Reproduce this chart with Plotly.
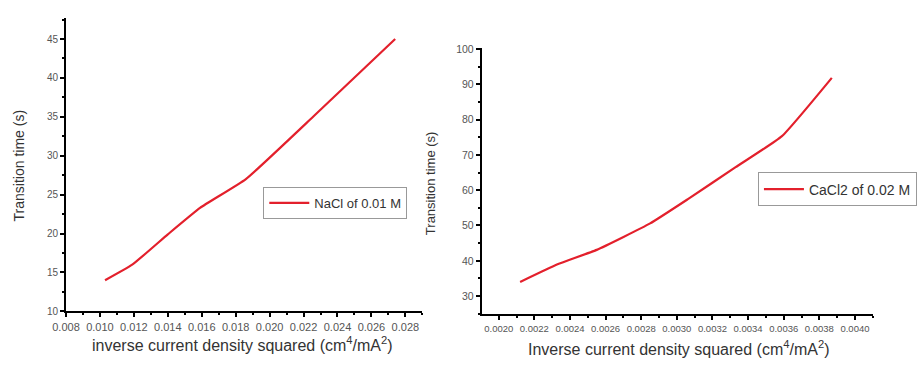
import plotly.graph_objects as go

# Left panel: NaCl 0.01 M
nacl_x = [0.0103, 0.0119, 0.0140, 0.0159, 0.0186, 0.0227, 0.0274]
nacl_y = [14.0, 16.0, 19.9, 23.3, 27.0, 35.3, 45.0]

# Right panel: CaCl2 0.02 M
cacl_x = [0.00212, 0.00233, 0.00255, 0.00285, 0.00306, 0.00333, 0.00359, 0.00387]
cacl_y = [34.0, 39.0, 43.1, 50.6, 57.4, 66.5, 75.3, 91.8]

left_xticks = [0.008, 0.010, 0.012, 0.014, 0.016, 0.018, 0.020, 0.022, 0.024, 0.026, 0.028]
left_yticks = [10, 15, 20, 25, 30, 35, 40, 45]
right_xticks = [0.0020, 0.0022, 0.0024, 0.0026, 0.0028, 0.0030, 0.0032, 0.0034, 0.0036, 0.0038, 0.0040]
right_yticks = [30, 40, 50, 60, 70, 80, 90, 100]

RED = "#e3202c"
FONT = "Liberation Sans"
TICKC = "#555555"
TITLEC = "#333333"

fig = go.Figure()
fig.add_trace(go.Scatter(x=nacl_x, y=nacl_y, mode="lines", name="NaCl of 0.01 M",
                         line=dict(color=RED, width=2.2, shape="spline", smoothing=0.4),
                         xaxis="x", yaxis="y", legend="legend"))
fig.add_trace(go.Scatter(x=cacl_x, y=cacl_y, mode="lines", name="CaCl2 of 0.02 M",
                         line=dict(color=RED, width=2.2, shape="spline", smoothing=0.4),
                         xaxis="x2", yaxis="y2", legend="legend2"))

axis_common = dict(showgrid=False, zeroline=False, showline=True, linecolor="black", linewidth=2,
                   ticks="outside", tickcolor="black", tickwidth=1.5, ticklen=4)

fig.update_layout(
    width=917, height=367, margin=dict(l=0, r=0, t=0, b=0),
    plot_bgcolor="white", paper_bgcolor="white",
    font=dict(family=FONT, color="#444444"),
    xaxis=dict(domain=[0.0578, 0.4537], range=[0.008, 0.0290], anchor="y",
               tickvals=left_xticks, ticktext=[f"{v:.3f}" for v in left_xticks],
               tickfont=dict(size=11, color=TICKC),
               minor=dict(ticks="outside", ticklen=2, tickcolor="black", dtick=0.001, tick0=0.008),
               **axis_common),
    yaxis=dict(domain=[0.1417, 0.9646], range=[10, 47.75], anchor="x",
               tickvals=left_yticks, tickfont=dict(size=10, color=TICKC),
               minor=dict(ticks="outside", ticklen=2, tickcolor="black", dtick=2.5, tick0=10),
               **axis_common),
    xaxis2=dict(domain=[0.5198, 0.9542], range=[0.001905, 0.0041], anchor="y2",
                tickvals=right_xticks, ticktext=[f"{v:.4f}" for v in right_xticks],
                tickfont=dict(size=9.5, color=TICKC),
                minor=dict(ticks="outside", ticklen=2, tickcolor="black", dtick=0.0001, tick0=0.002),
                **axis_common),
    yaxis2=dict(domain=[0.1335, 0.8801], range=[24.85, 100.3], anchor="x2",
                tickvals=right_yticks, tickfont=dict(size=10.5, color=TICKC),
                minor=dict(ticks="outside", ticklen=2, tickcolor="black", dtick=5, tick0=30),
                **axis_common),
    legend=dict(x=0.277, y=0.4905, xanchor="left", yanchor="top", bgcolor="white",
                bordercolor="#999999", borderwidth=1, font=dict(size=13, color=TITLEC),
                itemwidth=40, tracegroupgap=0),
    legend2=dict(x=0.8266, y=0.531, xanchor="left", yanchor="top", bgcolor="white",
                 bordercolor="#999999", borderwidth=1, font=dict(size=14, color=TITLEC),
                 itemwidth=40, tracegroupgap=0),
    showlegend=True,
    annotations=[
        dict(text="Transition time (s)", x=5 / 917, y=(367 - 165) / 367, xref="paper", yref="paper",
             xanchor="center", yanchor="middle",
             textangle=-90, showarrow=False, font=dict(size=14, color=TITLEC)),
        dict(text="inverse current density squared (cm<sup>4</sup>/mA<sup>2</sup>)", x=233 / 917,
             y=(367 - 348) / 367, xref="paper", yref="paper", showarrow=False,
             xanchor="center", yanchor="middle",
             font=dict(size=16, color=TITLEC)),
        dict(text="Transition time (s)", x=424 / 917, y=(367 - 183) / 367, xref="paper", yref="paper",
             xanchor="center", yanchor="middle",
             textangle=-90, showarrow=False, font=dict(size=13, color=TITLEC)),
        dict(text="Inverse current density squared (cm<sup>4</sup>/mA<sup>2</sup>)", x=677 / 917,
             y=(367 - 353) / 367, xref="paper", yref="paper", showarrow=False,
             xanchor="center", yanchor="middle",
             font=dict(size=16, color=TITLEC)),
    ],
)

fig.write_html("out.html")
